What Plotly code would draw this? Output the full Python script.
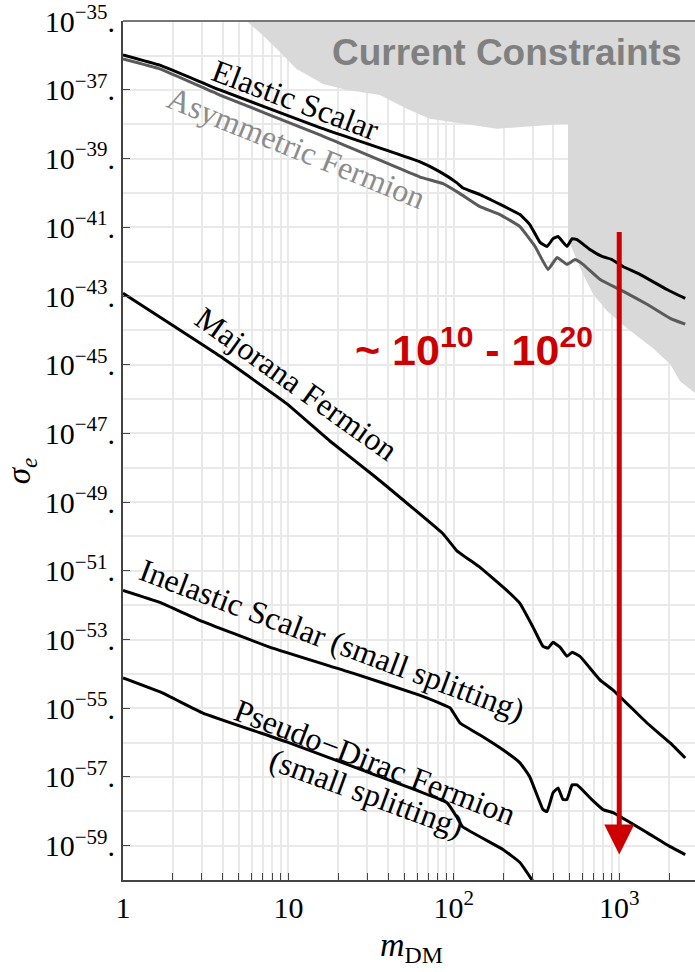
import math
import plotly.graph_objects as go

# ---- data: dark-matter mass (GeV) and log10 of the electron cross-section ----
elastic_m = [1, 1.67, 3.85, 15.5, 62, 82, 104, 113, 144, 251, 288, 332, 366, 398, 427,
             483, 519, 556, 665, 787, 904, 1052, 1333, 1941, 2506]
elastic_log = [-35.98, -36.28, -37.00, -38.10, -39.09, -39.38, -39.70, -39.85, -40.05,
               -40.63, -40.92, -41.44, -41.56, -41.33, -41.27, -41.56, -41.33, -41.36,
               -41.65, -41.85, -41.94, -42.14, -42.37, -42.81, -43.07]

asym_m = [1, 1.67, 3.85, 15.5, 62, 86, 109, 144, 190, 251, 310, 371, 421, 483, 540,
          604, 766, 1052, 1472, 2032, 2506]
asym_log = [-36.10, -36.39, -37.15, -38.31, -39.53, -39.73, -40.02, -40.40, -40.63,
            -40.98, -41.56, -42.23, -41.88, -42.08, -41.94, -42.08, -42.52, -42.86,
            -43.24, -43.65, -43.82]

majorana_m = [1, 3.85, 9.8, 17.8, 34, 86, 104, 144, 209, 251, 301, 346, 371,
              398, 438, 483, 519, 579, 766, 918, 1472, 2032, 2506]
majorana_log = [-42.92, -44.75, -46.14, -47.22, -48.29, -49.92, -50.41, -50.90,
                -51.57, -51.95, -52.64, -53.20, -53.25, -53.08, -53.22, -53.49, -53.37,
                -53.49, -54.18, -54.47, -55.43, -56.01, -56.45]

inelastic_m = [1, 1.67, 2.91, 7.7, 24.5, 62, 82, 95, 109, 144, 198, 251, 288, 346, 366,
               398, 427, 457, 483, 519, 556, 683, 798, 918, 1472, 2032, 2506]
inelastic_log = [-51.57, -51.92, -52.44, -53.22, -53.98, -54.62, -54.85, -54.99, -55.43,
                 -55.78, -56.21, -56.59, -57.00, -57.95, -58.01, -57.46, -57.32, -57.66,
                 -57.66, -57.23, -57.23, -57.66, -57.95, -58.04, -58.62, -59.03, -59.26]

pdirac_m = [1, 1.74, 3.04, 9.77, 31, 91, 104, 113, 198, 251, 301]
pdirac_log = [-54.12, -54.56, -55.14, -55.98, -56.88, -57.75, -58.16, -58.45, -59.11,
              -59.49, -60.04]

# excluded region (upper edge of the shaded area), closed along the top of the frame
bound_m = [5.6, 7.0, 8.9, 11.2, 16.2, 22.6, 35.7, 52, 71.6, 182, 457, 490, 490, 519,
           604, 695, 844, 1114, 1600, 2028, 2333, 2870, 3000, 3000, 5.6]
bound_log = [-35.0, -35.41, -35.90, -36.39, -36.83, -37.00, -37.15, -37.55, -37.84,
             -38.13, -37.99, -37.99, -41.41, -41.62, -42.37, -42.95, -43.44, -43.94,
             -44.52, -44.98, -45.48, -45.82, -45.9, -35.0, -35.0]

# red arrow: reach of the suppression at m = 1 TeV
arrow_m = 1000
arrow_top_log = -41.09
arrow_tip_log = -59.26

x_decades = [1, 10, 100, 1000]
x_decade_text = ["1", "10", "10<sup>2</sup>", "10<sup>3</sup>"]
y_label_exps = list(range(-59, -34, 2))

SERIF = "Liberation Serif"


def pow10(vals):
    return [10 ** v for v in vals]


fig = go.Figure()

fig.add_trace(go.Scatter(
    x=bound_m, y=pow10(bound_log), mode="lines", fill="toself",
    fillcolor="#d9d9d9", line=dict(width=0), hoverinfo="skip", showlegend=False))

curves = [
    (asym_m, asym_log, "#5a5a5a"),
    (elastic_m, elastic_log, "black"),
    (majorana_m, majorana_log, "black"),
    (inelastic_m, inelastic_log, "black"),
    (pdirac_m, pdirac_log, "black"),
]
for m, lg, col in curves:
    fig.add_trace(go.Scatter(
        x=m, y=pow10(lg), mode="lines",
        line=dict(color=col, width=3, shape="spline", smoothing=0.3),
        showlegend=False))

# x ticks at every 1..9 x 10^k, labels only at decades
x_tickvals, x_ticktext = [], []
for d, lab in zip(x_decades, x_decade_text):
    for k in range(1, 10):
        v = d * k
        if v > 2900:
            break
        x_tickvals.append(v)
        x_ticktext.append(lab if k == 1 else "")

y_tickvals = [10.0 ** e for e in y_label_exps]
y_ticktext = ["10<sup>\u2212%d</sup>." % (-e) for e in y_label_exps]
y_minor = [10.0 ** e for e in range(-60, -34, 2)]

fig.update_xaxes(
    type="log", range=[0, 3.458],
    tickmode="array", tickvals=x_tickvals, ticktext=x_ticktext,
    ticks="inside", ticklen=7, tickwidth=1.3, tickcolor="#444",
    showgrid=True, gridcolor="#e9e9e9", gridwidth=1.5,
    showline=True, linecolor="#444", linewidth=2,
    tickfont=dict(family=SERIF, size=30, color="black"),
    ticklabeloverflow="allow",
    zeroline=False,
)
fig.update_yaxes(
    type="log", range=[-60, -34.995],
    tickmode="array", tickvals=y_tickvals, ticktext=y_ticktext,
    ticks="inside", ticklen=7, tickwidth=1.3, tickcolor="#444",
    showgrid=True, gridcolor="#e9e9e9", gridwidth=1.5,
    minor=dict(tickmode="array", tickvals=y_minor, showgrid=True,
               gridcolor="#e9e9e9", gridwidth=1.5, ticks=""),
    showline=True, linecolor="#444", linewidth=2,
    tickfont=dict(family=SERIF, size=30, color="black"),
    ticklabeloverflow="allow",
    zeroline=False,
)

annotations = []
curve_labels = [
    ("Elastic Scalar", 1.045, -37.29, 20.5, "black"),
    ("Asymmetric Fermion", 1.051, -38.70, 22, "#8c8c8c"),
    ("Majorana Fermion", 1.051, -45.56, 35.5, "black"),
    ("Inelastic Scalar (small splitting)", 1.264, -53.02, 20.5, "black"),
    ("Pseudo\u2212Dirac Fermion", 1.523, -56.56, 21, "black"),
    ("(small splitting)", 1.474, -57.46, 20, "black"),
]
for text, lx, ly, ang, col in curve_labels:
    annotations.append(dict(
        x=lx, y=ly, xref="x", yref="y", text=text, showarrow=False,
        xanchor="center", yanchor="middle",
        textangle=ang, font=dict(family=SERIF, size=32, color=col)))

annotations.append(dict(
    x=math.log10(arrow_m), y=arrow_tip_log, ax=math.log10(arrow_m), ay=arrow_top_log,
    xref="x", yref="y", axref="x", ayref="y", text="", showarrow=True,
    arrowhead=2, arrowsize=1.2, arrowwidth=5, arrowcolor="#cc0000", standoff=0))

annotations += [
    dict(x=0.67, y=0.963, xref="paper", yref="paper", text="<b>Current Constraints</b>",
         showarrow=False, xanchor="center", yanchor="middle",
         font=dict(family="Liberation Sans", size=37, color="#808080")),
    dict(x=0.6136, y=0.62, xref="paper", yref="paper",
         text="<b>~ 10<sup>10</sup> - 10<sup>20</sup></b>", showarrow=False,
         xanchor="center", yanchor="middle",
         font=dict(family="Liberation Sans", size=43, color="#cc0000")),
    dict(x=-0.178, y=0.476, xref="paper", yref="paper",
         text="<i>\u03c3</i><sub><i>e</i></sub>", showarrow=False, textangle=-90,
         xanchor="center", yanchor="middle",
         font=dict(family=SERIF, size=33, color="black")),
    dict(x=0.5035, y=-0.1045, xref="paper", yref="paper",
         text="<i>m</i><sub>DM</sub>", showarrow=False,
         xanchor="center", yanchor="bottom",
         font=dict(family=SERIF, size=34, color="black")),
]

fig.update_layout(
    width=695, height=972,
    margin=dict(l=123, r=0, t=19, b=92),
    paper_bgcolor="white", plot_bgcolor="white",
    annotations=annotations,
    shapes=[dict(type="line", xref="paper", yref="paper", x0=0, x1=1, y0=1, y1=1,
                 line=dict(color="#777", width=2))],
    showlegend=False,
)

fig.write_html("out.html")
